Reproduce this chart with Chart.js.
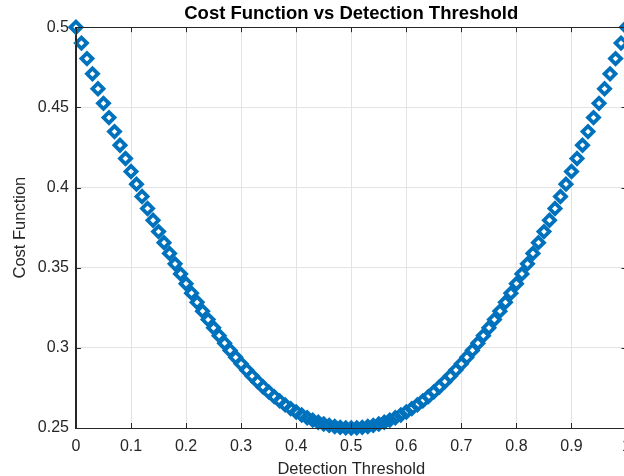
<!DOCTYPE html>
<html>
<head>
<meta charset="utf-8">
<script src="https://cdn.jsdelivr.net/npm/chart.js@4.4.1/dist/chart.umd.min.js"></script>
<style>
    html, body { margin: 0; padding: 0; background: #fff; overflow: hidden; }
    #wrap { width: 624px; height: 476px; overflow: hidden; }
    #box { position: relative; width: 640px; height: 476px; }
</style>
</head>
<body>
<div id="wrap"><div id="box"><canvas id="costChart"></canvas></div></div>
<script>
// ===== Data =====
const thresholds = [
    0.00, 0.01, 0.02, 0.03, 0.04, 0.05, 0.06, 0.07, 0.08, 0.09,
    0.10, 0.11, 0.12, 0.13, 0.14, 0.15, 0.16, 0.17, 0.18, 0.19,
    0.20, 0.21, 0.22, 0.23, 0.24, 0.25, 0.26, 0.27, 0.28, 0.29,
    0.30, 0.31, 0.32, 0.33, 0.34, 0.35, 0.36, 0.37, 0.38, 0.39,
    0.40, 0.41, 0.42, 0.43, 0.44, 0.45, 0.46, 0.47, 0.48, 0.49,
    0.50, 0.51, 0.52, 0.53, 0.54, 0.55, 0.56, 0.57, 0.58, 0.59,
    0.60, 0.61, 0.62, 0.63, 0.64, 0.65, 0.66, 0.67, 0.68, 0.69,
    0.70, 0.71, 0.72, 0.73, 0.74, 0.75, 0.76, 0.77, 0.78, 0.79,
    0.80, 0.81, 0.82, 0.83, 0.84, 0.85, 0.86, 0.87, 0.88, 0.89,
    0.90, 0.91, 0.92, 0.93, 0.94, 0.95, 0.96, 0.97, 0.98, 0.99,
    1.00
];
const costValues = [
    0.5000, 0.4901, 0.4804, 0.4709, 0.4616, 0.4525, 0.4436, 0.4349, 0.4264, 0.4181,
    0.4100, 0.4021, 0.3944, 0.3869, 0.3796, 0.3725, 0.3656, 0.3589, 0.3524, 0.3461,
    0.3400, 0.3341, 0.3284, 0.3229, 0.3176, 0.3125, 0.3076, 0.3029, 0.2984, 0.2941,
    0.2900, 0.2861, 0.2824, 0.2789, 0.2756, 0.2725, 0.2696, 0.2669, 0.2644, 0.2621,
    0.2600, 0.2581, 0.2564, 0.2549, 0.2536, 0.2525, 0.2516, 0.2509, 0.2504, 0.2501,
    0.2500, 0.2501, 0.2504, 0.2509, 0.2516, 0.2525, 0.2536, 0.2549, 0.2564, 0.2581,
    0.2600, 0.2621, 0.2644, 0.2669, 0.2696, 0.2725, 0.2756, 0.2789, 0.2824, 0.2861,
    0.2900, 0.2941, 0.2984, 0.3029, 0.3076, 0.3125, 0.3176, 0.3229, 0.3284, 0.3341,
    0.3400, 0.3461, 0.3524, 0.3589, 0.3656, 0.3725, 0.3796, 0.3869, 0.3944, 0.4021,
    0.4100, 0.4181, 0.4264, 0.4349, 0.4436, 0.4525, 0.4616, 0.4709, 0.4804, 0.4901,
    0.5000
];
const xTicks = [0, 0.1, 0.2, 0.3, 0.4, 0.5, 0.6, 0.7, 0.8, 0.9, 1];
const yTicks = [0.25, 0.3, 0.35, 0.4, 0.45, 0.5];

// ===== Colors =====
const colors = {
    line: '#0072BD',
    axis: '#262626',
    grid: '#e3e3e3'
};

const fontFamily = 'Liberation Sans, Arial, Helvetica, sans-serif';

// box around the axes + inward tick marks (MATLAB style)
const boxTicks = {
    id: 'boxTicks',
    afterDatasetsDraw(chart) {
        const { ctx, chartArea: a, scales: { x, y } } = chart;
        const len = 5;
        ctx.save();
        ctx.strokeStyle = colors.axis;
        ctx.lineWidth = 1;
        ctx.beginPath();
        ctx.rect(Math.round(a.left) + 0.5, Math.round(a.top) + 0.5,
            Math.round(a.right - a.left), Math.round(a.bottom - a.top));
        xTicks.forEach(v => {
            const px = Math.round(x.getPixelForValue(v)) + 0.5;
            ctx.moveTo(px, a.bottom); ctx.lineTo(px, a.bottom - len);
            ctx.moveTo(px, a.top); ctx.lineTo(px, a.top + len);
        });
        yTicks.forEach(v => {
            const py = Math.round(y.getPixelForValue(v)) + 0.5;
            ctx.moveTo(a.left, py); ctx.lineTo(a.left + len, py);
            ctx.moveTo(a.right, py); ctx.lineTo(a.right - len, py);
        });
        ctx.stroke();
        ctx.restore();
    }
};

const points = thresholds.map((t, i) => ({ x: t, y: costValues[i] }));

new Chart(document.getElementById('costChart'), {
    type: 'scatter',
    data: {
        datasets: [{
            data: points,
            showLine: false,
            pointStyle: 'rectRot',
            pointRadius: 5.5,
            pointBorderWidth: 3.8,
            pointBorderColor: colors.line,
            pointBackgroundColor: 'rgba(0,0,0,0)',
            clip: false
        }]
    },
    options: {
        responsive: true,
        maintainAspectRatio: false,
        animation: false,
        layout: { padding: { left: 7, right: 12, top: 0, bottom: -3 } },
        plugins: {
            legend: { display: false },
            tooltip: { enabled: false },
            title: {
                display: true,
                fullSize: false,
                text: 'Cost Function vs Detection Threshold',
                color: '#000',
                font: { family: fontFamily, size: 18.5, weight: 'bold' },
                padding: { top: 3, bottom: 2 }
            }
        },
        scales: {
            x: {
                type: 'linear',
                min: 0,
                max: 1,
                afterBuildTicks: s => { s.ticks = xTicks.map(v => ({ value: v })); },
                grid: { color: colors.grid, drawTicks: false },
                border: { color: colors.axis },
                ticks: {
                    color: colors.axis,
                    padding: 9,
                    maxRotation: 0,
                    font: { family: fontFamily, size: 16 },
                    callback: v => String(v)
                },
                title: {
                    display: true,
                    text: 'Detection Threshold',
                    color: colors.axis,
                    font: { family: fontFamily, size: 16.5 },
                    padding: { top: -6, bottom: 0 }
                }
            },
            y: {
                type: 'linear',
                min: 0.25,
                max: 0.5,
                afterBuildTicks: s => { s.ticks = yTicks.map(v => ({ value: v })); },
                grid: { color: colors.grid, drawTicks: false },
                border: { color: colors.axis },
                ticks: {
                    color: colors.axis,
                    padding: 7,
                    font: { family: fontFamily, size: 16 },
                    callback: v => String(v)
                },
                title: {
                    display: true,
                    text: 'Cost Function',
                    color: colors.axis,
                    font: { family: fontFamily, size: 16.5 },
                    padding: { top: 4, bottom: 0 }
                }
            }
        }
    },
    plugins: [boxTicks]
});
</script>
</body>
</html>
